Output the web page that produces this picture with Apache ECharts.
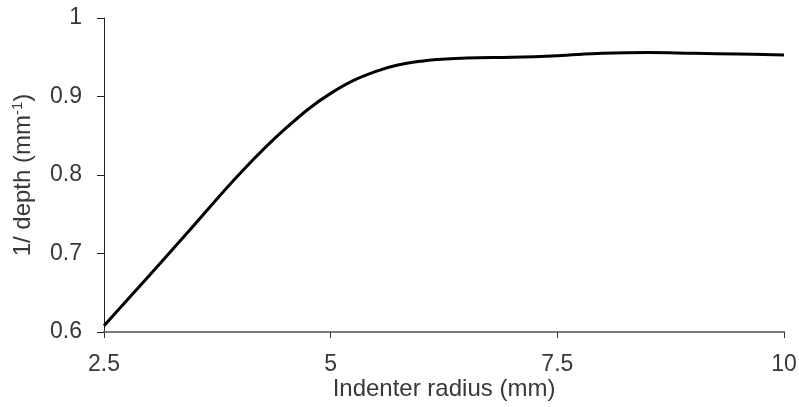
<!DOCTYPE html>
<html>
<head>
<meta charset="utf-8">
<title>1/depth vs indenter radius</title>
<script src="https://cdn.jsdelivr.net/npm/echarts@6/dist/echarts.min.js"></script>
<style>
    html, body { margin: 0; padding: 0; background: #fff; }
    #chart { width: 799px; height: 407px; }
</style>
</head>
<body>
<div id="chart"></div>
<script>
    // indenter radius (mm)
    var radius = [2.5, 3, 3.5, 4, 4.5, 5, 5.5, 6, 6.5, 7, 7.5, 8, 8.5, 9, 9.5, 10];
    // 1/depth (mm^-1)
    var invDepth = [0.608, 0.672, 0.737, 0.802, 0.859, 0.904, 0.932, 0.945, 0.949, 0.950,
                    0.952, 0.955, 0.956, 0.955, 0.954, 0.953];
    var xTicks = [2.5, 5, 7.5, 10];
    var yTicks = [0.6, 0.7, 0.8, 0.9, 1];

    var textColor = '#383838';
    var font = 'Liberation Sans, Arial, sans-serif';

    var myChart = echarts.init(document.getElementById('chart'));
    var options = {
        animation: false,
        grid: {
            left: 104,
            right: 15,
            top: 18,
            bottom: 75,
            containLabel: false,
            outerBoundsMode: 'none'
        },
        xAxis: {
            type: 'value',
            min: xTicks[0],
            max: xTicks[xTicks.length - 1],
            interval: xTicks[1] - xTicks[0],
            name: 'Indenter radius (mm)',
            nameLocation: 'middle',
            nameGap: 45,
            nameMoveOverlap: false,
            nameTextStyle: { color: textColor, fontSize: 24, fontFamily: font },
            axisLine: { lineStyle: { color: '#7a7a7a', width: 2 } },
            axisTick: { show: true, inside: false, length: 6, lineStyle: { color: '#333', width: 1 } },
            axisLabel: {
                color: textColor, fontSize: 23, fontFamily: font, margin: 21,
                formatter: function (v) { return String(v); }
            },
            splitLine: { show: false }
        },
        yAxis: {
            type: 'value',
            min: yTicks[0],
            max: yTicks[yTicks.length - 1],
            interval: 0.1,
            name: '1/ depth (mm{sup|-1})',
            nameLocation: 'middle',
            nameGap: 68,
            nameMoveOverlap: false,
            nameRotate: 90,
            nameTextStyle: {
                color: textColor, fontSize: 24, fontFamily: font,
                rich: {
                    sup: { color: textColor, fontSize: 15, fontFamily: font, verticalAlign: 'top', padding: [0, 0, 11, 0] }
                }
            },
            axisLine: { show: true, lineStyle: { color: '#222', width: 1 } },
            axisTick: { show: true, inside: false, length: 7, lineStyle: { color: '#222', width: 1 } },
            axisLabel: {
                color: textColor, fontSize: 23, fontFamily: font, margin: 22,
                formatter: function (v) { return String(Math.round(v * 10) / 10); }
            },
            splitLine: { show: false }
        },
        series: [
            {
                type: 'line',
                smooth: 0.4,
                symbol: 'none',
                lineStyle: { color: '#000', width: 3 },
                data: radius.map(function (r, i) { return [r, invDepth[i]]; })
            }
        ]
    };
    myChart.setOption(options);
</script>
</body>
</html>
